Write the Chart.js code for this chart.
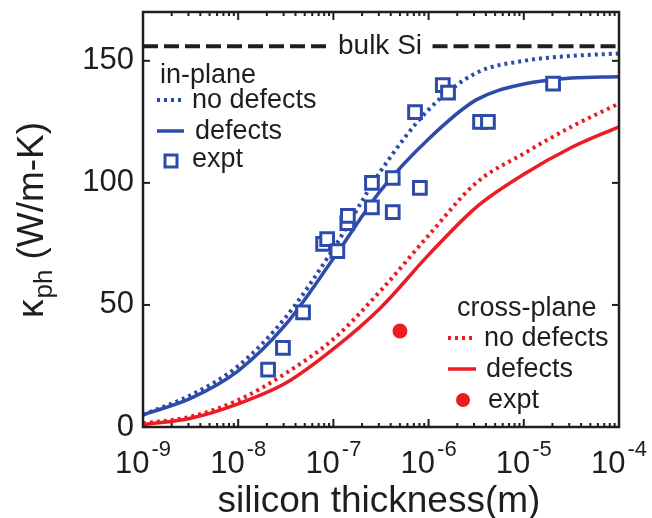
<!DOCTYPE html>
<html lang="en">
<head>
<meta charset="UTF-8">
<title>kappa_ph vs silicon thickness</title>
<script src="https://cdn.jsdelivr.net/npm/chart.js"></script>
<style>
  html, body { margin: 0; padding: 0; background: #fff; }
  #wrap { width: 652px; height: 518px; }
</style>
</head>
<body>
<div id="wrap"><canvas id="kappaChart" width="652" height="518"></canvas></div>
<script>
// model curves, sampled every half decade (m)
var thickness = [1e-9, 3.16e-9, 1e-8, 3.16e-8, 1e-7, 3.16e-7, 1e-6, 3.16e-6, 1e-5, 3.16e-5, 1e-4];
var inPlaneNoDefects  = [5, 13, 25, 45, 73, 105, 130, 145, 150, 152, 153];
var inPlaneDefects    = [5, 11.7, 23, 42, 69, 97, 118, 134, 140.5, 143, 143.5];
var crossNoDefects    = [1.5, 4.2, 11, 22, 36, 56, 78.5, 100, 112, 123, 132.5];
var crossDefects      = [1, 3.6, 9.5, 18, 32, 49, 70.5, 90, 103.5, 114.5, 123];

// measurements
var inPlaneExptX = [2.06e-8, 2.95e-8, 4.8e-8, 7.8e-8, 8.6e-8, 1.1e-7, 1.4e-7, 1.42e-7, 2.54e-7, 2.54e-7,
                    4.2e-7, 4.2e-7, 7.2e-7, 8.1e-7, 1.41e-6, 1.6e-6, 3.47e-6, 4.2e-6, 2.03e-5];
var inPlaneExptY = [23.5, 32.4, 47, 75, 77, 72, 83.5, 86.5, 100, 90,
                    102, 88, 129, 98, 140, 137, 125, 125, 140.7];
var crossExptX = [5e-7];
var crossExptY = [39.3];

// bulk Si reference line (gap left for its label)
var bulkX = [1e-9, 9.2e-8, 3e-7, 1.1e-6, 1e-4];
var bulkY = [156, 156, null, 156, 156];

var yTicks = [0, 50, 100, 150];
var xTickExps = [-9, -8, -7, -6, -5, -4];

var BLUE = '#2d4ba9';
var RED = '#ec1c24';
var INK = '#1e1e1e';
var FONT = '"Liberation Sans", Arial, Helvetica, sans-serif';

function pts(xs, ys) {
    return xs.map(function (v, i) { return { x: v, y: ys[i] }; });
}

function line(ctx, x1, y1, x2, y2) {
    ctx.beginPath();
    ctx.moveTo(x1, y1);
    ctx.lineTo(x2, y2);
    ctx.stroke();
}

var decor = {
    id: 'decor',
    afterDatasetsDraw: function (chart) {
        var ctx = chart.ctx, a = chart.chartArea;
        var xs = chart.scales.x, ys = chart.scales.y;
        ctx.save();

        // frame + inward ticks
        ctx.strokeStyle = INK;
        ctx.lineWidth = 2.5;
        ctx.setLineDash([]);
        ctx.strokeRect(a.left, a.top, a.right - a.left, a.bottom - a.top);
        ctx.lineWidth = 2;
        yTicks.forEach(function (v) {
            var py = ys.getPixelForValue(v);
            line(ctx, a.left, py, a.left + 7, py);
            line(ctx, a.right, py, a.right - 7, py);
        });
        for (var e = -9; e <= -4; e++) {
            for (var m = 1; m <= 9; m++) {
                var v = m * Math.pow(10, e);
                if (v > 1.0001e-4) break;
                var px = xs.getPixelForValue(v);
                var len = m === 1 ? 8 : 4;
                line(ctx, px, a.bottom, px, a.bottom - len);
                line(ctx, px, a.top, px, a.top + len);
            }
        }

        // x tick labels 10^n
        ctx.fillStyle = INK;
        ctx.textAlign = 'left';
        ctx.textBaseline = 'alphabetic';
        xTickExps.forEach(function (n) {
            var px = xs.getPixelForValue(Math.pow(10, n));
            ctx.font = '31px ' + FONT;
            var wb = ctx.measureText('10').width;
            ctx.font = '22px ' + FONT;
            var we = ctx.measureText(String(n)).width;
            var x0 = px - (wb + we + 2) / 2;
            ctx.font = '31px ' + FONT;
            ctx.fillText('10', x0, 473);
            ctx.font = '22px ' + FONT;
            ctx.fillText(String(n), x0 + wb + 2, 456);
        });

        // x title
        ctx.font = '37px ' + FONT;
        ctx.textAlign = 'center';
        ctx.fillText('silicon thickness(m)', 379, 512);

        // y title, rotated, kappa with subscript
        ctx.save();
        ctx.translate(43, 318);
        ctx.rotate(-Math.PI / 2);
        ctx.textAlign = 'left';
        ctx.font = '37px ' + FONT;
        ctx.fillText('\u03ba', 0, 0);
        var cx = ctx.measureText('\u03ba').width + 1;
        ctx.font = '26px ' + FONT;
        ctx.fillText('ph', cx, 9);
        cx += ctx.measureText('ph').width + 10;
        ctx.font = '37px ' + FONT;
        ctx.fillText('(W/m-K)', cx, 0);
        ctx.restore();

        // bulk Si label
        ctx.font = '28px ' + FONT;
        ctx.textAlign = 'left';
        ctx.fillText('bulk Si', 338, 54);

        // legends
        ctx.font = '27px ' + FONT;
        ctx.fillText('in-plane', 160, 83);
        ctx.fillText('no defects', 192, 108);
        ctx.fillText('defects', 195, 139);
        ctx.fillText('expt', 192, 167);
        ctx.fillText('cross-plane', 457, 316);
        ctx.fillText('no defects', 484, 346);
        ctx.fillText('defects', 486, 377);
        ctx.fillText('expt', 488, 408);

        ctx.lineWidth = 4;
        ctx.strokeStyle = BLUE;
        ctx.setLineDash([3, 4]);
        line(ctx, 157, 100, 184, 100);
        ctx.setLineDash([]);
        ctx.lineWidth = 3.5;
        line(ctx, 157, 131, 184, 131);
        ctx.lineWidth = 3;
        ctx.fillStyle = '#fff';
        ctx.fillRect(165, 155, 12, 12);
        ctx.strokeRect(165, 155, 12, 12);

        ctx.lineWidth = 4;
        ctx.strokeStyle = RED;
        ctx.setLineDash([3, 4]);
        line(ctx, 448, 338, 476, 338);
        ctx.setLineDash([]);
        ctx.lineWidth = 3.5;
        line(ctx, 448, 369, 476, 369);
        ctx.fillStyle = RED;
        ctx.beginPath();
        ctx.arc(463, 400, 7, 0, Math.PI * 2);
        ctx.fill();

        ctx.restore();
    }
};

var curveStyle = { pointRadius: 0, borderWidth: 3.5, fill: false, cubicInterpolationMode: 'monotone' };
var dotStyle = { pointRadius: 0, borderWidth: 4, borderDash: [3, 4], fill: false, cubicInterpolationMode: 'monotone' };

var data = {
    datasets: [
        { label: 'in-plane expt', data: pts(inPlaneExptX, inPlaneExptY), showLine: false,
            pointStyle: 'rect', pointRadius: 9, pointBorderWidth: 3,
            pointBorderColor: BLUE, pointBackgroundColor: '#fff' },
        { label: 'cross-plane expt', data: pts(crossExptX, crossExptY), showLine: false,
            pointStyle: 'circle', pointRadius: 7.5, pointBorderWidth: 0,
            pointBackgroundColor: RED, pointBorderColor: RED },
        Object.assign({ label: 'in-plane no defects', data: pts(thickness, inPlaneNoDefects),
            borderColor: BLUE }, dotStyle),
        Object.assign({ label: 'in-plane defects', data: pts(thickness, inPlaneDefects),
            borderColor: BLUE }, curveStyle),
        Object.assign({ label: 'cross-plane no defects', data: pts(thickness, crossNoDefects),
            borderColor: RED }, dotStyle),
        Object.assign({ label: 'cross-plane defects', data: pts(thickness, crossDefects),
            borderColor: RED }, curveStyle),
        { label: 'bulk Si', data: pts(bulkX, bulkY), borderColor: INK, borderWidth: 4,
            borderDash: [15, 6], pointRadius: 0, spanGaps: false, tension: 0 }
    ]
};

var config = {
    type: 'line',
    data: data,
    options: {
        responsive: false,
        animation: false,
        layout: { padding: { top: 9, right: 33, left: 0, bottom: 0 } },
        plugins: { legend: { display: false }, tooltip: { enabled: false } },
        scales: {
            x: {
                type: 'logarithmic',
                min: 1e-9,
                max: 1e-4,
                grid: { display: false, drawTicks: false },
                border: { display: false },
                ticks: { display: false },
                afterFit: function (s) {
                    s.height = 91;
                    s.paddingLeft = 0;
                    s.paddingRight = 0;
                }
            },
            y: {
                min: 0,
                max: 170,
                grid: { display: false, drawTicks: false },
                border: { display: false },
                afterBuildTicks: function (s) {
                    s.ticks = yTicks.map(function (v) { return { value: v }; });
                },
                ticks: { color: INK, padding: 9, font: { family: FONT, size: 31 } },
                afterFit: function (s) {
                    s.width = 143;
                    s.paddingTop = 0;
                    s.paddingBottom = 0;
                }
            }
        }
    },
    plugins: [decor]
};

var myChart = new Chart(document.getElementById('kappaChart'), config);
</script>
</body>
</html>
